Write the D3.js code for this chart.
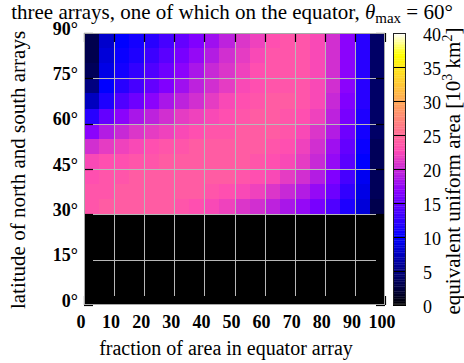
<!DOCTYPE html>
<html>
<head>
<meta charset="utf-8">
<script src="https://cdn.jsdelivr.net/npm/d3@7"></script>
<style>
  html, body { margin: 0; padding: 0; background: #fff; }
  svg { display: block; font-family: "Liberation Serif", "DejaVu Serif", serif; }
</style>
</head>
<body>
<svg id="chart" width="464" height="363"></svg>
<script>
// Axis ticks
const fracTicks = [0, 10, 20, 30, 40, 50, 60, 70, 80, 90, 100];
const latTicks = [0, 15, 30, 45, 60, 75, 90];
const cbTicks = [0, 5, 10, 15, 20, 25, 30, 35, 40];

// Cell bands: fraction of area in equator array (lower edge, width 5)
const fracBands = [0, 5, 10, 15, 20, 25, 30, 35, 40, 45, 50, 55, 60, 65, 70, 75, 80, 85, 90, 95];
// Latitude bands of the north/south arrays (lower edge, width 5), top to bottom
const latBands = [85, 80, 75, 70, 65, 60, 55, 50, 45, 40, 35, 30, 25, 20, 15, 10, 5, 0];

// Equivalent uniform area [10^3 km^2], one row per latitude band (same order as latBands)
const area85 = [3, 8, 10, 11, 12, 13.5, 15, 16.5, 18, 19.5, 21, 22, 23, 23.5, 23.5, 22.5, 20.5, 17, 12, 4];
const area80 = [3, 8.5, 10.5, 11.5, 13, 14.5, 16, 17.5, 19, 20.5, 21.5, 22.5, 23.5, 23.5, 23.5, 22.5, 20.5, 17, 12, 4];
const area75 = [3.5, 9, 11, 12.5, 14, 15.5, 17, 18.5, 20, 21, 22, 23, 23.5, 23.5, 23.5, 22.5, 20.5, 17, 12, 4];
const area70 = [5, 10, 12, 13.5, 15, 16.5, 18, 19.5, 20.5, 21.5, 22.5, 23, 23.5, 23.5, 23.5, 22.5, 20.5, 17, 12, 4];
const area65 = [7.5, 11.5, 14, 15.5, 17, 18.5, 19.5, 20.5, 21.5, 22.5, 23, 23.5, 24, 24, 23.5, 22.5, 20, 16.5, 12, 4];
const area60 = [12, 15, 17, 18.5, 19.5, 20.5, 21.5, 22, 22.5, 23, 23.5, 24, 24, 23.5, 23, 22, 19.5, 16, 11.5, 4];
const area55 = [17, 19, 20, 21, 21.5, 22, 22.5, 23, 23.5, 23.5, 24, 24, 24, 23.5, 22.5, 21, 19, 15.5, 11, 4];
const area50 = [20.5, 21.5, 22, 22.5, 23, 23.5, 23.5, 24, 24, 24, 24, 24, 23.5, 23, 22, 20.5, 18, 15, 10.5, 3.5];
const area45 = [22.5, 23, 23, 23.5, 23.5, 24, 24, 24, 24, 24, 24, 23.5, 23, 22.5, 21.5, 20, 17.5, 14.5, 10, 3.5];
const area40 = [23, 23.5, 23.5, 24, 24, 24, 24, 24, 24, 24, 23.5, 23, 22.5, 21.5, 20.5, 19, 16.5, 13.5, 9.5, 3.5];
const area35 = [23.5, 23.5, 24, 24, 24, 24, 24, 24, 23.5, 23, 22.5, 22, 21, 20, 19, 17.5, 15.5, 12.5, 9, 3.5];
const area30 = [23.5, 24, 24, 24, 24, 24, 23.5, 23, 22.5, 22, 21, 20.5, 19.5, 18.5, 17.5, 16, 14, 11.5, 8.5, 3];
const area25 = [0, 0, 0, 0, 0, 0, 0, 0, 0, 0, 0, 0, 0, 0, 0, 0, 0, 0, 0, 0];
const area20 = [0, 0, 0, 0, 0, 0, 0, 0, 0, 0, 0, 0, 0, 0, 0, 0, 0, 0, 0, 0];
const area15 = [0, 0, 0, 0, 0, 0, 0, 0, 0, 0, 0, 0, 0, 0, 0, 0, 0, 0, 0, 0];
const area10 = [0, 0, 0, 0, 0, 0, 0, 0, 0, 0, 0, 0, 0, 0, 0, 0, 0, 0, 0, 0];
const area5 = [0, 0, 0, 0, 0, 0, 0, 0, 0, 0, 0, 0, 0, 0, 0, 0, 0, 0, 0, 0];
const area0 = [0, 0, 0, 0, 0, 0, 0, 0, 0, 0, 0, 0, 0, 0, 0, 0, 0, 0, 0, 0];
const areaRows = [area85, area80, area75, area70, area65, area60, area55, area50, area45,
                  area40, area35, area30, area25, area20, area15, area10, area5, area0];

const BAND = 5;

// Layout
const plot = { left: 84, right: 385, top: 33, bottom: 305 };
const cbar = { left: 393, right: 406, top: 33, bottom: 305 };

const svg = d3.select("#chart");

const x = d3.scaleLinear().domain([0, 100]).range([plot.left, plot.right]);
const y = d3.scaleLinear().domain([0, 90]).range([plot.bottom, plot.top]);
const cbY = d3.scaleLinear().domain([0, 40]).range([cbar.bottom, cbar.top]);

// Black-blue-violet-yellow-white palette (rgbformulae 30,31,32)
const clamp01 = v => Math.max(0, Math.min(1, v));
function palette(t) {
  const r = clamp01(t / 0.32 - 0.78125);
  const g = clamp01(2 * t - 0.84);
  let b;
  if (t < 0.25) b = 4 * t;
  else if (t < 0.42) b = 1;
  else if (t < 0.92) b = -2 * t + 1.84;
  else b = t / 0.08 - 11.5;
  b = clamp01(b);
  return d3.rgb(r * 255, g * 255, b * 255).toString();
}
const color = d3.scaleSequential(palette).domain([0, 40]);

// Heat-map cells
const cells = [];
latBands.forEach((lat, i) => {
  fracBands.forEach((f, j) => {
    cells.push({ f, lat, v: areaRows[i][j] });
  });
});

svg.append("defs").append("clipPath").attr("id", "plotClip")
  .append("rect")
  .attr("x", plot.left).attr("y", plot.top)
  .attr("width", plot.right - plot.left).attr("height", plot.bottom - plot.top);

svg.append("g").attr("clip-path", "url(#plotClip)")
  .selectAll("rect").data(cells).join("rect")
  .attr("x", d => x(d.f))
  .attr("y", d => y(d.lat + BAND))
  .attr("width", d => x(d.f + BAND) - x(d.f) + 0.5)
  .attr("height", d => y(d.lat) - y(d.lat + BAND) + 0.5)
  .attr("fill", d => color(d.v))
  .attr("shape-rendering", "crispEdges");

// Grid lines, drawn between the inward tick marks
const TICK = 9;
const grid = svg.append("g").attr("stroke", "#b8b8b8").attr("stroke-width", 1);
grid.selectAll("line.vx").data(fracTicks.slice(1, -1)).join("line")
  .attr("x1", d => Math.round(x(d)) + 0.5).attr("x2", d => Math.round(x(d)) + 0.5)
  .attr("y1", plot.top + TICK).attr("y2", plot.bottom - TICK);
grid.selectAll("line.hy").data(latTicks.slice(1, -1)).join("line")
  .attr("y1", d => Math.round(y(d)) + 0.5).attr("y2", d => Math.round(y(d)) + 0.5)
  .attr("x1", plot.left + TICK).attr("x2", plot.right - TICK);

// Tick marks on all four sides, pointing inward
const ticks = svg.append("g").attr("stroke", "#000").attr("stroke-width", 1.2);
fracTicks.forEach(d => {
  const px = Math.round(x(d)) + 0.5;
  ticks.append("line").attr("x1", px).attr("x2", px).attr("y1", plot.top).attr("y2", plot.top + TICK);
  ticks.append("line").attr("x1", px).attr("x2", px).attr("y1", plot.bottom).attr("y2", plot.bottom - TICK);
});
latTicks.forEach(d => {
  const py = Math.round(y(d)) + 0.5;
  ticks.append("line").attr("y1", py).attr("y2", py).attr("x1", plot.left).attr("x2", plot.left + TICK);
  ticks.append("line").attr("y1", py).attr("y2", py).attr("x1", plot.right).attr("x2", plot.right - TICK);
});

// Plot frame
svg.append("rect")
  .attr("x", plot.left + 0.5).attr("y", plot.top + 0.5)
  .attr("width", plot.right - plot.left - 1).attr("height", plot.bottom - plot.top - 1)
  .attr("fill", "none").attr("stroke", "#a8a8a8").attr("stroke-width", 1);

// Tick labels
svg.append("g").selectAll("text").data(fracTicks).join("text")
  .attr("x", d => x(d) - 3).attr("y", 328)
  .attr("text-anchor", "middle").attr("font-weight", "bold").attr("font-size", 18)
  .text(d => d);

svg.append("g").selectAll("text").data(latTicks).join("text")
  .attr("x", 78).attr("y", d => y(d) + 1.5)
  .attr("text-anchor", "end").attr("font-weight", "bold").attr("font-size", 18)
  .text(d => d + "°");

// Colour bar
const cbSteps = d3.range(0, 40, 0.25);
svg.append("g").selectAll("rect").data(cbSteps).join("rect")
  .attr("x", cbar.left).attr("width", cbar.right - cbar.left)
  .attr("y", d => cbY(d + 0.25)).attr("height", d => cbY(d) - cbY(d + 0.25) + 0.3)
  .attr("fill", d => color(d + 0.125));

svg.append("g").attr("stroke", "#000").attr("stroke-width", 1)
  .selectAll("line").data(cbTicks).join("line")
  .attr("x1", cbar.left).attr("x2", cbar.right)
  .attr("y1", d => Math.round(cbY(d)) + 0.5).attr("y2", d => Math.round(cbY(d)) + 0.5);

svg.append("rect")
  .attr("x", cbar.left + 0.5).attr("y", cbar.top + 0.5)
  .attr("width", cbar.right - cbar.left - 1).attr("height", cbar.bottom - cbar.top - 1)
  .attr("fill", "none").attr("stroke", "#222").attr("stroke-width", 1);

svg.append("g").selectAll("text").data(cbTicks).join("text")
  .attr("x", 423).attr("y", d => cbY(d) + 7.5)
  .attr("text-anchor", "start").attr("font-size", 18)
  .text(d => d);

// Title
const title = svg.append("text")
  .attr("x", 232).attr("y", 19).attr("text-anchor", "middle").attr("font-size", 21);
title.append("tspan").text("three arrays, one of which on the equator, ");
title.append("tspan").attr("font-style", "italic").text("θ");
title.append("tspan").attr("font-size", 15).attr("dy", 4).text("max");
title.append("tspan").attr("dy", -4).text(" = 60°");

// Axis titles
svg.append("text")
  .attr("x", 226).attr("y", 355).attr("text-anchor", "middle").attr("font-size", 20)
  .text("fraction of area in equator array");

svg.append("text")
  .attr("transform", "translate(25,170) rotate(-90)")
  .attr("text-anchor", "middle").attr("font-size", 21)
  .text("latitude of north and south arrays");

const cbLabel = svg.append("text")
  .attr("transform", "translate(460,171) rotate(-90)")
  .attr("text-anchor", "middle").attr("font-size", 21);
cbLabel.append("tspan").text("equivalent uniform area [10");
cbLabel.append("tspan").attr("font-size", 14).attr("dy", -8).text("3");
cbLabel.append("tspan").attr("dy", 8).text(" km");
cbLabel.append("tspan").attr("font-size", 14).attr("dy", -8).text("2");
cbLabel.append("tspan").attr("dy", 8).text("]");
</script>
</body>
</html>
